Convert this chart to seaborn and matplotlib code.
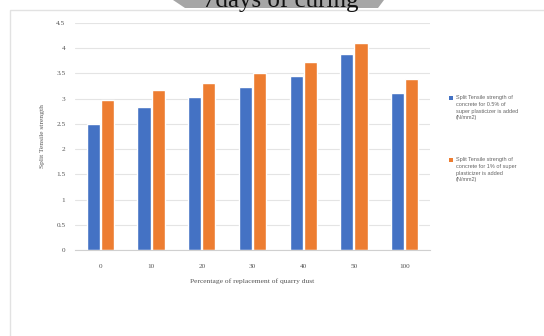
import matplotlib
matplotlib.use("Agg")
import matplotlib.pyplot as plt
import seaborn as sns
import pandas as pd
from matplotlib.patches import Rectangle, Polygon

categories = ["0", "10", "20", "30", "40", "50", "100"]
series_05 = [2.50, 2.83, 3.04, 3.24, 3.44, 3.89, 3.11]
series_1 = [2.98, 3.18, 3.32, 3.50, 3.72, 4.10, 3.38]
series_names = [
    "Split Tensile strength of\nconcrete for 0.5% of\nsuper plasticizer is added\n(N/mm2)",
    "Split Tensile strength of\nconcrete for 1% of super\nplasticizer is added\n(N/mm2)",
]
yticks = [0, 0.5, 1, 1.5, 2, 2.5, 3, 3.5, 4, 4.5]
ytick_labels = ["0", "0.5", "1", "1.5", "2", "2.5", "3", "3.5", "4", "4.5"]
colors = ["#4472C4", "#ED7D31"]

df = pd.DataFrame({
    "cat": categories * 2,
    "value": series_05 + series_1,
    "series": [series_names[0]] * len(categories) + [series_names[1]] * len(categories),
})

sns.set_theme(style="white")
plt.rcParams["font.family"] = ["Liberation Serif", "DejaVu Serif"]

W, H = 544, 336
fig = plt.figure(figsize=(W / 100, H / 100), dpi=100)
ax = fig.add_axes([75 / W, 1 - 250 / H, (430 - 75) / W, (250 - 23) / H])

sns.barplot(data=df, x="cat", y="value", hue="series", palette=colors,
            ax=ax, width=0.56, gap=0.07, saturation=1, legend=False)

ax.set_ylim(0, 4.5)
ax.set_yticks(yticks)
ax.set_yticklabels(ytick_labels)
ax.yaxis.grid(True, color="#e4e4e4", linewidth=0.8)
ax.set_axisbelow(True)
for s in ["top", "right", "left"]:
    ax.spines[s].set_visible(False)
ax.spines["bottom"].set_color("#d0d0d0")
ax.spines["bottom"].set_linewidth(0.8)
ax.tick_params(axis="both", length=0, colors="#555555", labelsize=5.2)
ax.tick_params(axis="x", pad=10)
ax.tick_params(axis="y", pad=7)
ax.set_xlabel("Percentage of replacement of quarry dust", fontsize=5.4, color="#555555", labelpad=7)
ax.set_ylabel("Split Tensile strength", fontsize=5.4, color="#555555", labelpad=8)

# outer frame
fig.patches.append(Rectangle((10 / W, -0.01), 1.0, 1 - 10 / H + 0.01,
                             transform=fig.transFigure, fill=False,
                             edgecolor="#e2e2e2", linewidth=1.0))
# banner
fig.patches.append(Polygon([(173 / W, 1.0), (185 / W, 1 - 8 / H), (378 / W, 1 - 8 / H), (384 / W, 1.0)],
                           closed=True, transform=fig.transFigure,
                           facecolor="#a6a6a6", edgecolor="none"))
fig.text(281 / W, 1 - 7 / H, "7days of curing", ha="center", va="baseline",
         fontsize=18, color="#111111", family=["Liberation Serif"])

# legend
leg_x = 452
for i, (name, c) in enumerate(zip(series_names, colors)):
    y = 98 + i * 62
    fig.patches.append(Rectangle(((leg_x - 3) / W, 1 - (y + 2) / H), 4 / W, 4 / H,
                                 transform=fig.transFigure, facecolor=c, edgecolor="none"))
    fig.text((leg_x + 4) / W, 1 - (y - 3) / H, name, ha="left", va="top",
             fontsize=4.0, color="#666666", linespacing=1.45,
             family=["Liberation Sans", "DejaVu Sans"])

fig.savefig("out.png", dpi=100, facecolor="white")
